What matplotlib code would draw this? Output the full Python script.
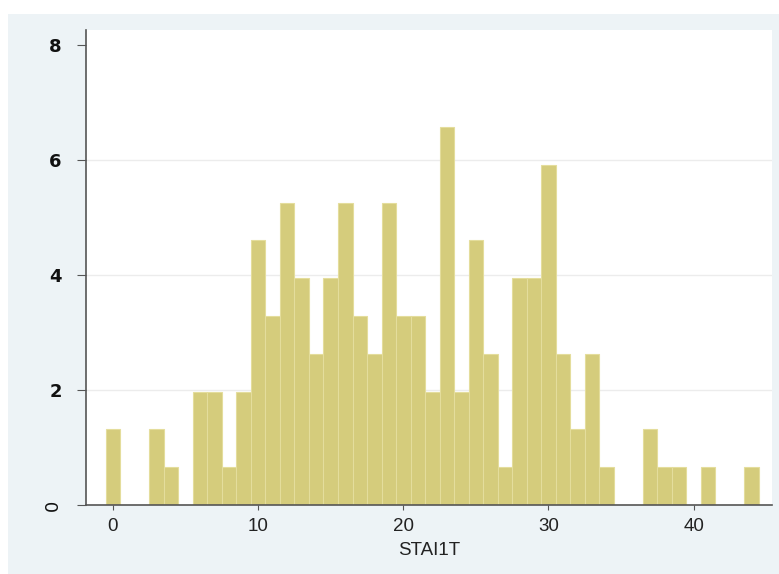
import matplotlib.pyplot as plt
from matplotlib.patches import Rectangle

# STAI1T score bins and percent heights
scores = list(range(0, 45))
percent = [1.32, 0, 0, 1.32, 0.66, 0, 1.97, 1.97, 0.66, 1.97,
           4.61, 3.29, 5.26, 3.95, 2.63, 3.95, 5.26, 3.29, 2.63, 5.26,
           3.29, 3.29, 1.97, 6.58, 1.97, 4.61, 2.63, 0.66, 3.95, 3.95,
           5.92, 2.63, 1.32, 2.63, 0.66, 0, 0, 1.32, 0.66, 0.66,
           0, 0.66, 0, 0, 0.66]
xticks = [0, 10, 20, 30, 40]
yticks = [0, 2, 4, 6, 8]

fig = plt.figure(figsize=(7.79, 5.74), dpi=100)
fig.patch.set_facecolor('white')
fig.patches.append(Rectangle((8 / 779, 0), 1, 1 - 14 / 574, transform=fig.transFigure,
                             facecolor='#edf3f6', edgecolor='none', zorder=-5))

ax = fig.add_axes([86 / 779, 1 - 505 / 574, 686 / 779, 475 / 574])
ax.set_zorder(1)
ax.set_facecolor('white')
ax.bar(scores, percent, width=1.0, color='#d5cc7c', edgecolor='#e4dd9c',
       linewidth=0.8, zorder=2)

ax.set_xlim(-1.86, 45.4)
ax.set_ylim(0, 8.26)
for y in [2, 4, 6]:
    ax.axhline(y, color='#ececec', linewidth=1, zorder=1)

for s in ['top', 'right']:
    ax.spines[s].set_visible(False)
for s in ['left', 'bottom']:
    ax.spines[s].set_color('#555555')
    ax.spines[s].set_linewidth(1.2)

ax.set_xticks(xticks)
ax.set_xticklabels([str(t) for t in xticks], fontsize=13.5,
                   family='Liberation Sans', color='#222222')
ax.tick_params(axis='x', length=3.6, color='#555555', pad=6)
ax.set_yticks(yticks)
ax.set_yticklabels(['0', '2', '4', '6', '8'], fontsize=13, fontweight='bold',
                   color='#111111')
ax.tick_params(axis='y', length=6.5, color='#555555', pad=11)
ax.get_yticklabels()[0].set_rotation(90)
ax.get_yticklabels()[0].set_fontweight('normal')
ax.get_yticklabels()[0].set_va('center')

ax.set_xlabel('STAI1T', fontsize=13.5, family='Liberation Sans',
              color='#222222', labelpad=5)

fig.savefig('out.png', dpi=100)
